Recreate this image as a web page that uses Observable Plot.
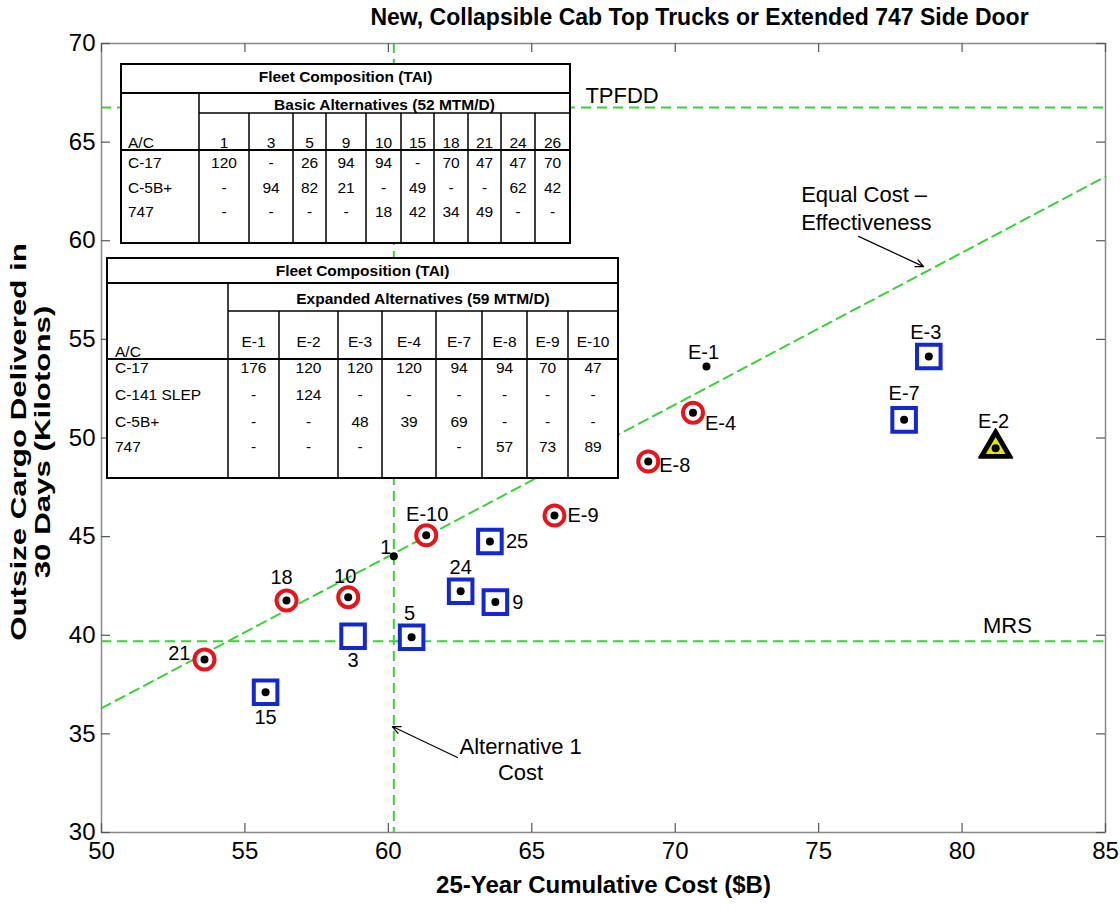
<!DOCTYPE html>
<html>
<head>
<meta charset="utf-8">
<script src="https://cdn.jsdelivr.net/npm/d3@7"></script>
<script src="https://cdn.jsdelivr.net/npm/@observablehq/plot@0.6"></script>
<style>
  body { margin: 0; background: #fff; }
  #wrap { position: relative; width: 1120px; height: 907px; }
</style>
</head>
<body>
<div id="wrap"></div>
<script>
// ---------------- DATA ----------------
const TITLE = "New, Collapsible Cab Top Trucks or Extended 747 Side Door";
const X_LABEL = "25-Year Cumulative Cost ($B)";
const Y_LABEL_LINES = ["Outsize Cargo Delivered in", "30 Days (Kilotons)"];
const X_TICKS = [50, 55, 60, 65, 70, 75, 80, 85];
const Y_TICKS = [30, 35, 40, 45, 50, 55, 60, 65, 70];

const names  = ["21", "15", "18", "10", "3", "1", "5", "E-10", "24", "25", "9", "E-9", "E-8", "E-4", "E-1", "E-7", "E-3", "E-2"];
const cost   = [53.59, 55.72, 56.45, 58.60, 58.77, 60.19, 60.81, 61.32, 62.52, 63.54, 63.73, 65.79, 69.06, 70.62, 71.09, 77.98, 78.84, 81.17];
const cargo  = [38.77, 37.11, 41.76, 41.93, 39.95, 44.01, 39.90, 45.07, 42.23, 44.75, 41.68, 46.07, 48.81, 51.28, 53.62, 50.92, 54.13, 49.48];
const marker = ["circle", "square", "circle", "circle", "square", "dot", "square", "circle", "square", "square", "square", "circle", "circle", "circle", "dot", "square", "square", "triangle"];
const hasDot = [true, true, true, true, false, true, true, true, true, true, true, true, true, true, true, true, true, true];

const TPFDD = 66.75;          // horizontal reference
const MRS = 39.7;             // horizontal reference
const ALT1_COST = 60.19;      // vertical reference
const equalLineX = [50, 85];  // equal cost-effectiveness line
const equalLineY = [36.3, 63.25];

const annotationText = ["Equal Cost –\nEffectiveness", "Alternative 1\nCost"];
const annotationX = [74.39, 64.61];
const annotationY = [60.57, 32.64];
const arrowFromX = [76.39, 62.41];
const arrowFromY = [60.22, 33.80];
const arrowToX   = [78.66, 60.14];
const arrowToY   = [58.69, 35.37];

// Table 1
const basicCols = ["1", "3", "5", "9", "10", "15", "18", "21", "24", "26"];
const basicRows = ["C-17", "C-5B+", "747"];
const basicC17  = ["120", "-", "26", "94", "94", "-", "70", "47", "47", "70"];
const basicC5   = ["-", "94", "82", "21", "-", "49", "-", "-", "62", "42"];
const basic747  = ["-", "-", "-", "-", "18", "42", "34", "49", "-", "-"];
// Table 2
const expCols = ["E-1", "E-2", "E-3", "E-4", "E-7", "E-8", "E-9", "E-10"];
const expRows = ["C-17", "C-141 SLEP", "C-5B+", "747"];
const expC17  = ["176", "120", "120", "120", "94", "94", "70", "47"];
const expC141 = ["-", "124", "-", "-", "-", "-", "-", "-"];
const expC5   = ["-", "-", "48", "39", "69", "-", "-", "-"];
const exp747  = ["-", "-", "-", "", "-", "57", "73", "89"];

// ---------------- STYLE / LAYOUT ----------------
const W = 1120, H = 907, ML = 101, MR = 15, MT = 43, MB = 75;
const PW = W - ML - MR, PH = H - MT - MB;
const SANS = '"Liberation Sans", Arial, Helvetica, sans-serif';
const NARROW = '"Liberation Sans Narrow", "Arial Narrow", "Liberation Sans", Arial, sans-serif';
const GREEN = "#3bd13b";
const DASH = "10,6";
const RED = "#e8141b";
const BLUE = "#1428d0";
const Y_LABEL_STRETCH = 1.42;

// label placement: [textAnchor, dx, dy]
const labelPlacement = {
  "21": ["end", -14, -6], "15": ["middle", 0, 25], "18": ["middle", -5, -23], "10": ["middle", -3, -21],
  "3": ["middle", 0, 24], "1": ["middle", -8, -9], "5": ["middle", -2, -24], "E-10": ["middle", 1, -21],
  "24": ["middle", 0, -24], "25": ["start", 16, 0], "9": ["start", 17, 0], "E-9": ["start", 13, 0],
  "E-8": ["start", 11, 4], "E-4": ["start", 12, 11], "E-1": ["middle", -3, -14], "E-7": ["middle", 0, -26],
  "E-3": ["middle", -3, -24], "E-2": ["middle", -2, -27]
};

const points = names.map((n, i) => ({name: n, cost: cost[i], cargo: cargo[i], marker: marker[i], dot: hasDot[i]}));
const equalLine = equalLineX.map((x, i) => ({x, y: equalLineY[i]}));
const annotations = annotationText.map((t, i) => ({text: t, x: annotationX[i], y: annotationY[i]}));
const arrows = arrowFromX.map((x, i) => ({x1: x, y1: arrowFromY[i], x2: arrowToX[i], y2: arrowToY[i]}));

const labelMarks = points.map(p => {
  const [anchor, dx, dy] = labelPlacement[p.name];
  return Plot.text([p], {x: "cost", y: "cargo", text: "name", textAnchor: anchor, dx, dy,
    lineAnchor: "middle", fontSize: 20, fontFamily: SANS, fill: "black"});
});

const svg = Plot.plot({
  width: W, height: H,
  marginLeft: ML, marginRight: MR, marginTop: MT, marginBottom: MB,
  style: {fontFamily: SANS, color: "black", background: "white"},
  x: {domain: [50, 85]},
  y: {domain: [30, 70]},
  marks: [
    // reference lines
    Plot.ruleY([TPFDD, MRS], {stroke: GREEN, strokeWidth: 2, strokeDasharray: DASH}),
    Plot.ruleX([ALT1_COST], {stroke: GREEN, strokeWidth: 2, strokeDasharray: DASH}),
    Plot.line(equalLine, {x: "x", y: "y", stroke: GREEN, strokeWidth: 2, strokeDasharray: DASH}),
    // frame and inward ticks
    Plot.frame({stroke: "#8a8a8a", strokeWidth: 1.5}),
    Plot.tickX(X_TICKS, {x: d => d, insetTop: PH - 9, stroke: "#555", strokeWidth: 1.2}),
    Plot.tickX(X_TICKS, {x: d => d, insetBottom: PH - 9, stroke: "#555", strokeWidth: 1.2}),
    Plot.tickY(Y_TICKS, {y: d => d, insetRight: PW - 9, stroke: "#555", strokeWidth: 1.2}),
    Plot.tickY(Y_TICKS, {y: d => d, insetLeft: PW - 9, stroke: "#555", strokeWidth: 1.2}),
    Plot.axisX({ticks: X_TICKS, tickSize: 0, tickPadding: 9, fontSize: 24, label: null, fontFamily: SANS}),
    Plot.axisY({ticks: Y_TICKS, tickSize: 0, tickPadding: 6, fontSize: 24, label: null, fontFamily: SANS}),
    // markers
    Plot.dot(points.filter(p => p.marker === "circle"), {x: "cost", y: "cargo", r: 10, stroke: RED, strokeWidth: 4, fill: "white"}),
    Plot.dot(points.filter(p => p.marker === "square"), {x: "cost", y: "cargo", symbol: "square", r: 13.3, stroke: BLUE, strokeWidth: 4, fill: "white"}),
    Plot.dot(points.filter(p => p.marker === "triangle"), {x: "cost", y: "cargo", symbol: "triangle", r: 12.3, fill: "black", stroke: "black", strokeWidth: 2, strokeLinejoin: "round"}),
    Plot.dot(points.filter(p => p.marker === "triangle"), {x: "cost", y: "cargo", symbol: "triangle", r: 7.3, fill: "#e6e600"}),
    Plot.dot(points.filter(p => p.dot), {x: "cost", y: "cargo", r: 4, fill: "black"}),
    labelMarks,
    // annotations
    Plot.text(annotations.slice(0, 1), {x: "x", y: "y", text: "text", textAnchor: "start", lineAnchor: "bottom", lineHeight: 1.23, fontSize: 22, fontFamily: SANS}),
    Plot.text(annotations.slice(1), {x: "x", y: "y", text: "text", textAnchor: "middle", lineAnchor: "bottom", lineHeight: 1.2, fontSize: 22, fontFamily: SANS}),
    Plot.arrow(arrows, {x1: "x1", y1: "y1", x2: "x2", y2: "y2", stroke: "black", strokeWidth: 1.2, headLength: 11, headAngle: 50}),
    Plot.text([{t: "TPFDD", y: TPFDD}], {x: () => 66.87, y: "y", text: "t", dy: -5, textAnchor: "start", lineAnchor: "bottom", fontSize: 22, fontFamily: SANS}),
    Plot.text([{t: "MRS", y: MRS}], {x: () => 80.73, y: "y", text: "t", dy: -8, textAnchor: "start", lineAnchor: "bottom", fontSize: 22, fontFamily: SANS}),
    // titles
    Plot.text([TITLE], {text: d => d, frameAnchor: "top", textAnchor: "middle", dx: 96, dy: -26, lineAnchor: "middle", fontSize: 23, fontWeight: "bold", fontFamily: NARROW}),
    Plot.text([X_LABEL], {text: d => d, frameAnchor: "bottom", textAnchor: "middle", dy: 53, lineAnchor: "middle", fontSize: 24, fontWeight: "bold", fontFamily: NARROW}),
    Plot.text([Y_LABEL_LINES.join("\n")], {text: d => d, frameAnchor: "left", textAnchor: "middle", dx: -71, dy: 4, rotate: -90, lineAnchor: "middle", lineHeight: 1.09, fontSize: 22, fontWeight: "bold", fontFamily: SANS})
  ]
});
document.getElementById("wrap").append(svg);

// stretch the y-axis title lines along their length, as in the reference
d3.select(svg).selectAll("text, tspan").filter(function () {
  return this.childElementCount === 0 && Y_LABEL_LINES.includes(this.textContent);
}).each(function () {
  const len = this.getComputedTextLength();
  d3.select(this).attr("textLength", len * Y_LABEL_STRETCH).attr("lengthAdjust", "spacingAndGlyphs");
});

// ---------------- TABLE OVERLAYS ----------------
const tg = d3.select(svg).append("g").attr("font-family", SANS).attr("font-size", 15.5).attr("fill", "black");

function drawTable(spec, title, subtitle, cols, rowLabels, rows) {
  const {x0, x1, y0, y1, edges, yTitle, ySub, yHead, titleBase, subBase, headBase, acBase, rowBase, labelX} = spec;
  const g = tg.append("g");
  const ln = (xa, ya, xb, yb, w) => g.append("line").attr("x1", xa).attr("y1", ya).attr("x2", xb).attr("y2", yb)
    .attr("stroke", "black").attr("stroke-width", w);
  g.append("rect").attr("x", x0).attr("y", y0).attr("width", x1 - x0).attr("height", y1 - y0)
    .attr("fill", "white").attr("stroke", "black").attr("stroke-width", 2);
  ln(x0, yTitle, x1, yTitle, 2);
  ln(edges[1], ySub, x1, ySub, 1.5);
  ln(x0, yHead, x1, yHead, 2);
  ln(edges[1], yTitle, edges[1], y1, 1.5);
  for (let i = 2; i < edges.length - 1; i++) ln(edges[i], ySub, edges[i], y1, 1.5);
  const txt = (x, y, s, anchor, bold) => g.append("text").attr("x", x).attr("y", y).attr("text-anchor", anchor)
    .attr("font-weight", bold ? "bold" : null).text(s);
  txt((x0 + x1) / 2, titleBase, title, "middle", true);
  txt((edges[1] + x1) / 2, subBase, subtitle, "middle", true);
  txt(labelX, acBase, "A/C", "start", false);
  cols.forEach((c, i) => txt((edges[i + 1] + edges[i + 2]) / 2, headBase, c, "middle", false));
  rowLabels.forEach((r, j) => {
    txt(labelX, rowBase[j], r, "start", false);
    rows[j].forEach((v, i) => txt((edges[i + 1] + edges[i + 2]) / 2, rowBase[j], v, "middle", false));
  });
}

drawTable({x0: 121, x1: 570, y0: 64, y1: 243,
  edges: [121, 199, 249, 293, 326, 366, 401, 434, 468, 501, 535, 570],
  yTitle: 93, ySub: 113, yHead: 150, titleBase: 82, subBase: 110, headBase: 148, acBase: 148,
  rowBase: [168, 193, 217], labelX: 128},
  "Fleet Composition (TAI)", "Basic Alternatives (52 MTM/D)", basicCols, basicRows, [basicC17, basicC5, basic747]);

drawTable({x0: 107, x1: 618, y0: 258, y1: 478,
  edges: [107, 228, 279, 338, 382, 436, 482, 527, 568, 618],
  yTitle: 283, ySub: 311, yHead: 359, titleBase: 276, subBase: 304, headBase: 347, acBase: 357,
  rowBase: [373, 400, 427, 452], labelX: 115},
  "Fleet Composition (TAI)", "Expanded Alternatives (59 MTM/D)", expCols, expRows, [expC17, expC141, expC5, exp747]);
</script>
</body>
</html>
